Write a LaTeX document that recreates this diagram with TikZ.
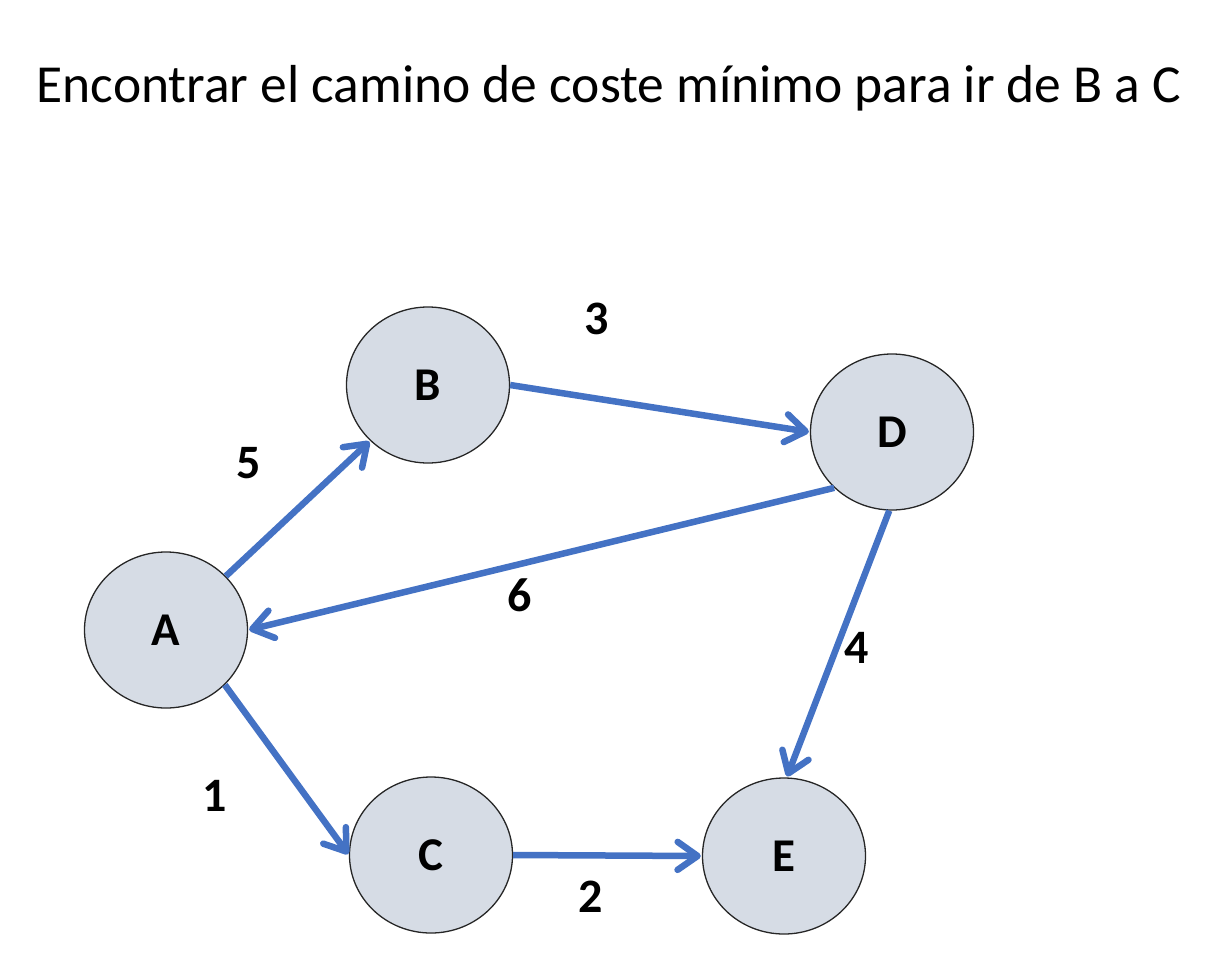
\documentclass[tikz,border=0pt]{standalone}
\usepackage{fontspec}
\setmainfont{Carlito}
\usetikzlibrary{arrows.meta,shapes.geometric}
\definecolor{edgeblue}{HTML}{4472C4}
\definecolor{nodefill}{HTML}{D6DCE5}
\tikzset{
  vertex/.style={ellipse, draw=black!85, line width=1.3pt, fill=nodefill, minimum width=163pt, minimum height=156pt, inner sep=0pt, font=\fontsize{47}{52}\selectfont\bfseries},
  edge/.style={draw=edgeblue, line width=6.5pt, -{Straight Barb[round,length=20pt,width=28pt,line width=6.5pt]}, shorten >=1pt},
  weight/.style={font=\fontsize{48}{52}\selectfont\bfseries}
}
\begin{document}
\begin{tikzpicture}[x=1pt,y=-1pt]
\useasboundingbox (0,0) rectangle (1210,964);
\node (title) at (609,88) {\fontsize{53.5}{58}\selectfont Encontrar el camino de coste mínimo para ir de B a C};
\node[vertex] (A) at (166,630) {A};
\node[vertex] (B) at (428,385) {B};
\node[vertex] (D) at (892,432) {D};
\node[vertex] (C) at (431,855) {C};
\node[vertex] (E) at (784,856) {E};
\draw[edge] (A.42) -- (B.224);
\draw[edge] (B.0) -- (D.180);
\draw[edge] (D.224.5) -- (A.0);
\draw[edge] (D.268.5) -- (E.88);
\draw[edge] (A.-43) -- (C.180);
\draw[edge] (C.0) -- (E.180);
\node[weight] (w5) at (249,463) {5};
\node[weight] (w3) at (597,319) {3};
\node[weight] (w6) at (520,595) {6};
\node[weight] (w4) at (857,648) {4};
\node[weight] (w1) at (215,796) {1};
\node[weight] (w2) at (591,897) {2};
\end{tikzpicture}
\end{document}
